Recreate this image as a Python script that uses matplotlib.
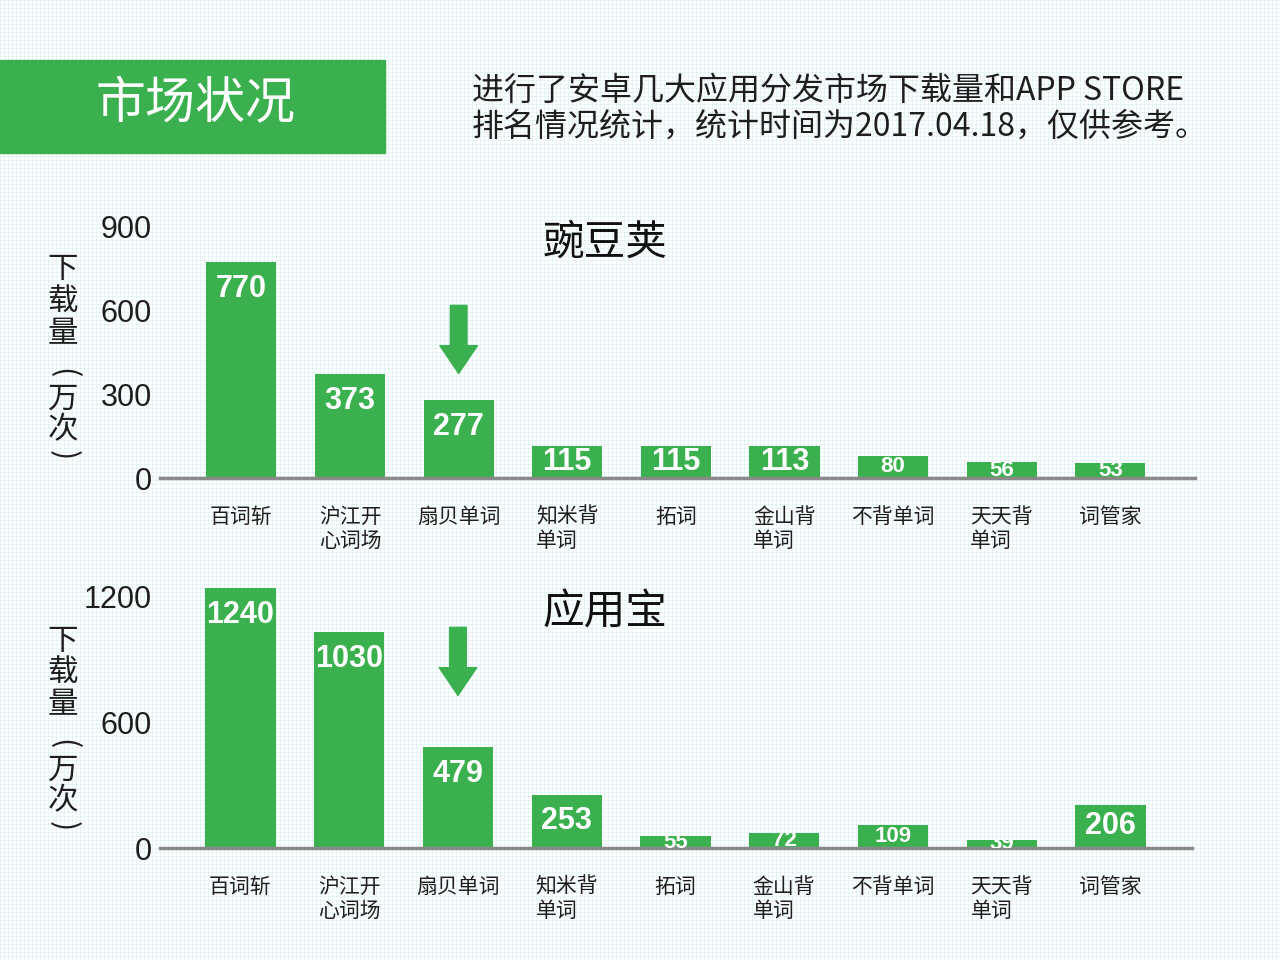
import matplotlib
matplotlib.use('Agg')
import matplotlib.pyplot as plt
import numpy as np
from matplotlib.patches import Rectangle
from matplotlib.transforms import offset_copy

plt.rcParams['font.family'] = ['Noto Sans CJK SC', 'DejaVu Sans']

# data
apps = ['百词斩', '沪江开\n心词场', '扇贝单词', '知米背\n单词', '拓词',
        '金山背\n单词', '不背单词', '天天背\n单词', '词管家']
wandoujia = [770, 373, 277, 115, 115, 113, 80, 56, 53]
yingyongbao = [1240, 1030, 479, 253, 55, 72, 109, 39, 206]
ticks_top = [0, 300, 600, 900]
ticks_bottom = [0, 600, 1200]
ylabel_chars = ['下', '载', '量', '(', '万', '次', ')']
ylabel_steps = [0, 31.5, 64, 103, 129.5, 159.5, 185.5]  # px below first char
highlight = 2  # 扇贝单词

green = '#3BB04F'
dark = '#1e1e1e'
W, H = 1280, 960

fig = plt.figure(figsize=(12.8, 9.6), dpi=100, facecolor='white')

# faint dotted background texture
yy, xx = np.mgrid[0:H, 0:W]
bg = np.ones((H, W, 3))
line = (xx % 4 == 0) | (yy % 4 == 0)
both = (xx % 4 == 0) & (yy % 4 == 0)
bg[line] = [0.91, 0.965, 0.97]
bg[both] = [0.85, 0.935, 0.945]
fig.figimage(bg, xo=0, yo=0, zorder=-10)

# header
fig.patches.append(Rectangle((0, 1 - 153 / H), 385 / W, 93 / H,
                             transform=fig.transFigure, color=green, zorder=1))
fig.text(196 / W, 1 - 104 / H, '市场状况', color='white', fontsize=36,
         ha='center', va='center')
fig.text(472 / W, 1 - 109 / H,
         '进行了安卓几大应用分发市场下载量和APP STORE\n排名情况统计，统计时间为2017.04.18，仅供参考。',
         color=dark, fontsize=23, ha='left', va='center', linespacing=1.15)


def draw_panel(rect, values, ticks, ymax, xlim, title, title_y, ylab_top, arrow_gap):
    ax = fig.add_axes(rect)
    ax.set_facecolor('none')
    x = np.arange(len(values))
    bars = ax.bar(x, values, width=0.645, color=green, zorder=2)
    ax.set_xlim(*xlim)
    ax.set_ylim(0, ymax)
    for s in ['top', 'right', 'left']:
        ax.spines[s].set_visible(False)
    ax.spines['bottom'].set_color('#8a8a8a')
    ax.spines['bottom'].set_linewidth(2.5)
    ax.spines['bottom'].set_zorder(3)

    ax.set_yticks(ticks)
    ax.set_yticklabels([str(t) for t in ticks], fontfamily='Liberation Sans',
                       fontsize=22, color=dark)
    ax.tick_params(axis='y', length=0, pad=6)
    ax.set_xticks(x)
    ax.set_xticklabels(apps, fontsize=15, color=dark, linespacing=1.15)
    for lbl in ax.get_xticklabels():
        lbl.set_multialignment('left')
    ax.tick_params(axis='x', length=0, pad=20)

    # value labels, clipped to the bar
    px_per_unit = rect[3] * H / ymax
    for b, v in zip(bars, values):
        h = v * px_per_unit
        drop = min(27, h / 2)
        size = 22 if h >= 30 else 16
        t = ax.annotate(str(v), xy=(b.get_x() + b.get_width() / 2, v),
                        xytext=(0, -drop * 0.72), textcoords='offset points',
                        ha='center', va='center', color='white',
                        fontsize=size, fontweight='bold',
                        fontfamily='Liberation Sans', zorder=4)
        t.set_clip_path(b)

    # arrow pointing at 扇贝单词
    tip = offset_copy(ax.transData, fig=fig, x=0, y=arrow_gap, units='dots')
    ax.annotate('', xy=(highlight, values[highlight]), xycoords=tip,
                xytext=(0, 49), textcoords='offset points',
                arrowprops=dict(arrowstyle='simple,head_length=2.0,head_width=2.7,tail_width=1.2',
                                mutation_scale=10, color=green, shrinkA=0, shrinkB=0))

    fig.text(605 / W, 1 - title_y / H, title, fontsize=30, color='#111111',
             ha='center', va='center')
    # vertical axis title, one character per line
    for ch, dy in zip(ylabel_chars, ylabel_steps):
        rot = -90 if ch in '()' else 0
        fig.text(63 / W, 1 - (ylab_top + dy) / H, ch, fontsize=22,
                 color=dark, ha='center', va='center', rotation=rot)
    return ax


# 豌豆荚 panel: baseline at y=478 px
draw_panel([160 / W, 1 - 478 / H, 1035 / W, 266 / H], wandoujia, ticks_top, 950,
           (-0.75, 8.78), '豌豆荚', 243, 270, 27)
# 应用宝 panel: baseline at y=848 px
draw_panel([160 / W, 1 - 848 / H, 1032 / W, 273 / H], yingyongbao, ticks_bottom, 1300,
           (-0.74, 8.75), '应用宝', 613, 641, 52)

fig.savefig('out.png', dpi=100)
